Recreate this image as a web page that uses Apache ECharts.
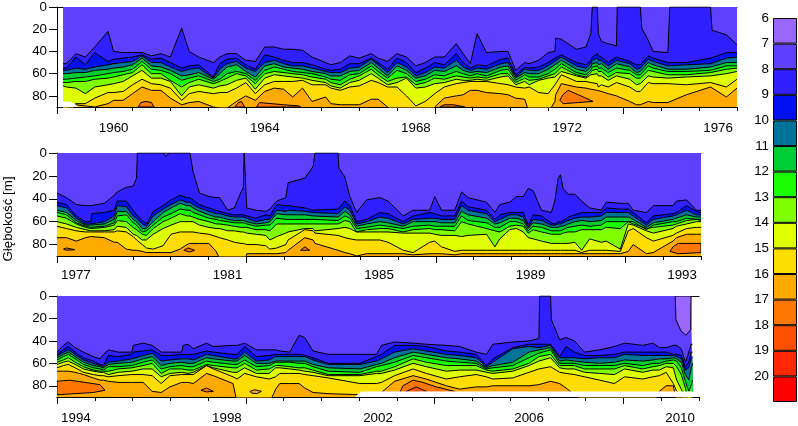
<!DOCTYPE html>
<html><head><meta charset="utf-8">
<style>html,body{margin:0;padding:0;background:#fff}#c{width:798px;height:426px}</style>
<script src="https://cdn.jsdelivr.net/npm/echarts@6/dist/echarts.min.js"></script>
</head><body><div id="c"></div>
<script>
// Temperature levels and their colours (legend)
const levels=[6,7,8,9,10,11,12,13,14,15,16,17,18,19,20];
const levelColors=['#9966ff','#6040ff','#3020ff','#0010f0','#007399','#00cc33','#19ff00','#80ff00','#dfff00','#ffdd00','#ffaa00','#ff7700','#ff5000','#ff2800','#ff0000'];
const yTicks=[0,20,40,60,80];

// Panel 1: 1959-1977
const years1=[1960,1964,1968,1972,1976];
const t1=[1959.16,1959.25,1959.5,1959.75,1960,1960.35,1960.5,1960.75,1961,1961.25,1961.5,1961.75,1962,1962.3,1962.5,1962.75,1963.14,1963.31,1963.5,1963.75,1964,1964.25,1964.5,
1964.75,1965,1965.24,1965.5,1965.75,1966.11,1966.25,1966.5,1966.75,1967,1967.32,1967.5,1967.75,1968,1968.25,1968.5,1968.75,1969,1969.25,1969.57,1969.75,1969.94,1970.12,1970.37,1970.75,1970.94,1971.14,1971.38,
1971.5,1971.75,1972,1972.18,1972.2,1972.35,1972.75,1973,1973.13,1973.17,1973.3,1973.33,1973.41,1973.59,1973.81,1973.83,1974.16,1974.34,1974.44,1974.48,1974.65,1974.78,1975.17,1975.22,1975.66,1976.3,1976.34,1976.72,1977];
const p1L8=[51,51,42,45,36,22,40,41,41,41,44,42,45,19,40,45,50,45,42,42,48,49,36,36,38,38,39,45,50,52,50,44,46,42,46,49,42,45,53,50,45,45,33,42,51,24,41,40,40,57,50,51,48,41,40,28,29,38,36,24,0,0,24,31,33,35,0,0,0,0,19,30,40,41,0,0,0,21,25,34];
const p1L9=[55,55,45,52,41,49,47,46,45,43,47,46,50,55,53,52,63,51,47,46,52,56,43,45,48,50,50,52,56,57,56,51,51,46,50,56,46,50,59,55,50,52,42,50,55,52,53,47,46,61,54,55,54,50,46,45,43,50,52,48,45,42,44,45,50,45,45,49,52,52,51,44,46,50,50,50,46,45,41,41];
const p1L10=[57,57,55,56,54,52,51,50,49,44,50,50,54,58,56,55,64,56,51,49,55,58,50,48,51,53,53,55,58,59,59,55,54,47,52,59,50,54,62,59,54,55,48,54,57,55,56,51,50,63,56,57,57,53,49,48,45,53,55,51,48,46,48,48,53,48,48,51,56,55,54,47,49,53,53,52,51,50,46,45];
const p1L11=[60,60,59,59,57,56,55,54,52,46,53,54,57,62,61,59,65,60,54,52,58,63,53,51,54,55,56,58,60,62,62,58,57,50,55,62,53,57,64,62,57,58,53,57,59,58,59,54,53,64,59,60,60,56,52,51,48,56,58,54,51,50,52,51,56,51,51,54,59,58,57,50,52,56,56,56,54,53,50,50];
const p1L12=[65,65,64,63,62,60,59,58,56,49,56,57,60,66,64,62,67,65,60,58,60,66,57,54,56,58,59,60,63,65,66,61,60,53,58,64,57,60,67,65,61,62,58,60,62,60,62,57,56,66,61,63,63,60,56,55,51,59,61,57,54,53,55,55,59,55,55,57,61,61,60,53,55,58,58,58,57,56,53,53];
const p1L13=[68,68,67,67,65,64,63,61,59,52,60,60,66,72,68,65,69,67,64,60,62,69,60,58,59,60,61,63,65,68,70,65,62,56,61,67,64,63,70,68,64,65,62,63,64,63,64,60,60,68,64,66,65,62,60,59,54,61,63,59,57,56,58,58,63,59,59,60,64,64,63,57,58,61,61,61,59,59,56,55];
const p1L14=[71,72,73,78,72,70,69,67,62,57,64,64,67,80,72,70,73,71,70,66,64,74,64,61,62,63,64,66,68,71,73,68,66,60,64,70,68,64,73,72,69,68,65,66,66,65,66,63,62,70,67,70,66,64,63,62,58,62,64,61,60,60,62,62,66,62,62,65,70,69,68,62,63,64,64,63,62,62,60,58];
const p1L15=[92,92,87,87,82,77,77,76,70,65,69,70,73,84,78,76,78,77,77,73,68,78,70,67,67,67,66,70,70,73,75,72,71,66,68,72,72,80,89,85,78,72,69,68,67,67,67,69,70,72,73,72,77,78,70,69,61,67,67,68,68,69,72,70,72,68,68,72,76,76,75,68,69,69,69,70,68,68,72,65];
const p1L16=[99,99,88,89,90,87,84,84,78,72,75,75,82,88,86,85,90,91,91,85,80,84,76,73,74,81,73,85,81,87,88,88,88,83,83,90,96,98,100,100,90,82,80,79,75,75,77,78,79,82,83,95,96,95,85,79,69,72,73,74,74,75,76,76,78,80,80,85,88,88,87,85,86,86,86,79,72,72,81,73];
const p1Blob17=[
 [[1961.15,90],[1961.22,86],[1961.35,85],[1961.5,86],[1961.57,90]],
 [[1963.71,90],[1963.8,86],[1963.88,85],[1963.97,90]],
 [[1964.28,90],[1964.36,86],[1965,88],[1965.4,89],[1965.45,90]],
 [[1969.13,90],[1969.25,88],[1969.5,88],[1969.8,90]],
 [[1972.31,84],[1972.39,79],[1972.53,75],[1972.8,79],[1973.19,85],[1972.8,86],[1972.4,87]]];
const p1NoData=[[1959.16,85.5],[1959.4,86],[1959.55,90],[1959.16,90]];

// Panel 2: 1977-1994
const years2=[1977,1981,1985,1989,1993];
const t2=[1977,1977.25,1977.51,1977.75,1977.89,1977.92,1978.25,1978.51,1978.59,1978.83,1979.01,1979.1,1979.12,1979.25,1979.36,1979.54,1979.8,1980.01,1980.25,1980.43,1980.51,1980.59,1980.76,1981.01,1981.2,1981.29,1981.51,1981.68,1981.86,1981.92,1981.94,1981.97,1982.01,1982.25,1982.51,
1982.62,1982.8,1983.04,1983.1,1983.54,1983.76,1983.81,1984.42,1984.44,1984.6,1984.73,1984.91,1985.17,1985.52,1985.74,1986.14,1986.4,1986.84,1986.97,1987.15,1987.5,1987.68,1987.85,1988.34,1988.56,1988.69,
1988.95,1989.13,1989.31,1989.44,1989.57,1989.79,1990.05,1990.14,1990.23,1990.29,1990.36,1990.49,1990.67,1990.85,1991.06,1991.37,1991.5,1991.87,1992.08,1992.21,1992.56,1992.74,1993.26,1993.35,1993.62,1993.88,1994];
const p2L8=[35,39,45,46,46,46,44,37,34,30,29,22,0,0,0,0,0,0,0,0,0,16,35,38,39,39,50,48,34,30,0,0,48,50,51,49,42,39,26,22,12,0,0,13,21,38,52,41,39,42,55,50,50,38,50,50,34,39,43,52,45,43,38,38,31,33,50,52,42,22,19,31,36,36,42,48,50,43,44,44,50,52,46,46,42,41,50,50];
const p2L9=[43,45,55,60,60,53,52,50,42,42,50,54,55,59,62,51,46,41,37,39,39,41,45,48,50,51,53,54,54,54,54,55,55,57,54,55,45,46,46,48,50,50,49,48,42,46,60,58,52,53,60,55,52,53,55,55,42,47,50,58,54,52,52,52,63,54,55,61,62,60,60,59,56,54,52,52,52,48,49,49,52,61,55,53,52,46,51,52];
const p2L10=[46,48,57,62,62,61,60,55,46,47,55,57,58,62,64,55,49,45,41,43,43,45,48,51,53,53,55,56,56,56,56,57,57,60,58,58,50,51,50,51,52,53,53,52,47,50,62,60,56,57,62,58,57,57,58,58,46,50,53,60,58,54,54,56,65,58,59,63,63,62,62,61,59,57,56,56,55,52,52,52,55,63,58,55,54,50,54,54];
const p2L11=[50,52,59,63,63,63,62,58,51,51,58,60,61,66,66,60,52,48,44,46,46,48,51,54,56,56,58,59,59,59,59,60,60,62,61,60,53,54,54,54,55,56,56,56,51,54,64,62,60,61,64,60,60,60,61,61,51,54,57,62,61,57,57,59,66,61,62,65,65,65,64,64,62,60,59,60,59,56,56,56,58,65,61,58,57,54,56,56];
const p2L12=[52,54,61,64,65,65,64,61,55,54,61,63,64,69,68,63,56,53,49,50,50,52,54,57,58,59,60,61,61,61,61,62,62,64,63,63,57,58,58,58,58,59,59,59,55,57,66,65,63,64,66,64,63,64,64,64,55,59,61,65,65,60,60,62,68,64,65,68,68,68,68,67,65,64,63,64,63,60,60,60,60,67,63,60,60,57,58,59];
const p2L13=[55,57,62,65,66,66,65,63,59,60,65,67,68,71,72,66,60,57,53,55,55,56,58,60,62,62,63,64,65,65,65,65,65,67,67,68,62,62,62,62,62,63,62,62,59,60,69,67,66,66,69,67,66,67,67,68,60,62,66,68,69,64,63,64,70,67,69,71,71,71,71,70,69,69,67,67,67,65,66,60,62,66,65,63,62,59,58,58];
const p2L14=[60,62,65,67,68,68,68,67,64,65,71,72,73,76,76,71,66,63,60,60,60,60,63,65,66,66,68,68,69,69,69,70,70,71,72,76,73,70,69,66,66,68,66,66,65,66,69,69,69,69,70,70,70,71,72,72,73,72,71,82,75,67,66,69,74,75,77,79,79,79,79,79,79,78,85,75,78,77,84,62,63,68,70,66,64,62,60,60];
const p2L15=[64,66,68,69,69,69,69,69,68,69,73,76,77,80,83,84,81,71,69,69,69,69,70,71,73,74,76,78,79,79,79,80,80,80,81,84,83,80,76,67,68,70,72,72,74,75,76,76,76,78,85,87,78,77,82,86,85,85,85,85,85,85,85,85,85,85,85,85,85,85,85,85,85,85,87,85,85,85,86,68,66,74,77,72,70,66,65,65];
const p2L16=[74,74,77,74,73,73,74,78,78,84,85,85,85,86,87,87,87,87,84,80,79,79,79,79,86,92,100,100,100,100,100,100,88,88,88,88,88,87,85,74,76,79,85,85,87,88,90,88,88,88,88,89,88,88,88,89,88,88,88,88,88,88,88,88,88,88,88,88,88,88,88,88,88,88,88,88,88,88,88,86,80,88,87,77,74,71,71,71];
const p2Blob17=[
 [[1977.17,84],[1977.25,83],[1977.47,84.5],[1977.25,85]],
 [[1980.35,85],[1980.46,83],[1980.63,85],[1980.5,86.5]],
 [[1983.43,85],[1983.54,82],[1983.67,85]],
 [[1993.18,86],[1993.26,82],[1993.4,79],[1994,79],[1994,87],[1993.4,88]]];
const p2Blob7=[[[1979.8,0],[1979.87,3],[1979.97,0]]];

// Panel 3: 1994-2011
const years3=[1994,1998,2002,2006,2010];
const t3=[1994,1994.17,1994.3,1994.48,1994.7,1994.96,1995.14,1995.23,1995.36,1995.62,1995.98,1996.02,1996.28,1996.52,1996.76,1996.99,1997.3,1997.34,1997.47,1997.61,1997.96,1998.14,1998.66,1998.77,1998.97,1999.28,1999.62,
1999.79,1999.9,2000.16,2000.41,2000.56,2000.78,2001.18,2002.02,2002.46,2002.59,2002.94,2003.43,2003.78,2004.31,2004.66,2005.1,2005.37,2005.54,2006.07,2006.5,
2006.76,2006.78,2007.07,2007.09,2007.31,2007.48,2007.7,2007.97,2008.37,2008.76,2009.03,2009.51,2009.78,2009.95,2010.13,2010.32,2010.41,2010.53,2010.64,2010.73,2010.79,2010.83];
const p3L8=[50,44,41,46,50,54,56,52,48,50,50,44,42,44,50,50,50,44,43,47,42,45,44,44,42,48,48,48,49,50,35,37,49,52,52,52,44,41,42,43,44,45,50,52,43,41,40,38,0,0,21,39,37,40,50,48,45,42,44,42,46,46,44,44,47,59,50,43,43];
const p3L9=[52,48,45,50,55,58,61,62,53,54,52,50,49,48,53,53,52,52,52,52,49,50,52,52,45,54,53,52,52,52,52,53,55,60,60,54,52,44,44,45,49,50,52,62,56,46,43,43,43,43,43,54,45,50,53,53,52,50,50,50,50,50,52,52,53,63,59,50,50];
const p3L10=[53,50,48,52,57,60,62,63,59,58,56,55,53,51,58,57,56,56,56,57,52,53,56,56,50,58,57,54,54,54,54,54,57,61,61,58,56,50,47,49,52,53,55,63,59,47,45,46,46,44,44,55,55,55,56,55,55,52,53,53,53,53,53,54,56,66,64,56,54];
const p3L11=[55,52,50,54,59,62,63,64,61,60,59,58,56,54,62,60,59,59,60,60,55,56,58,58,53,60,60,58,58,58,58,58,61,64,65,61,60,55,50,52,55,56,58,64,62,59,50,48,48,46,46,58,57,58,59,60,59,57,58,57,56,56,55,56,59,70,75,65,60];
const p3L12=[57,54,52,56,61,64,65,66,63,63,62,61,59,57,65,63,62,62,63,63,58,59,61,61,57,63,62,59,59,59,60,60,63,67,68,63,62,59,53,55,58,59,60,65,64,62,55,51,51,48,48,60,60,60,62,62,62,60,62,60,60,58,57,58,64,76,85,80,75];
const p3L13=[59,57,55,59,63,66,67,67,67,65,64,64,62,60,69,65,65,65,66,66,61,62,64,64,60,66,65,62,62,63,64,64,66,70,70,67,67,63,56,59,62,62,62,66,67,65,60,54,54,52,52,62,62,62,65,65,65,62,65,63,62,60,60,63,70,82,95,90,90];
const p3L14=[61,59,58,61,65,67,68,68,70,68,67,67,65,65,72,69,68,68,69,68,62,64,68,68,64,69,69,64,64,65,66,67,68,71,71,69,69,66,60,63,67,66,66,68,69,67,62,58,58,55,55,64,65,65,68,69,70,65,68,66,66,63,64,75,83,90,100,100,100];
const p3L15=[64,62,61,64,68,70,71,71,72,71,70,70,70,71,78,71,70,70,70,70,62,65,72,74,69,72,74,72,69,69,69,70,71,73,78,78,77,71,65,69,74,72,70,72,74,73,68,65,65,63,63,68,69,70,72,75,78,72,74,72,71,68,78,85,88,100,100,100,100];
const p3L16=[67,67,67,68,70,73,75,75,76,77,77,77,77,85,86,81,77,77,77,78,69,71,78,95,95,95,96,83,78,78,78,82,86,87,88,88,86,76,71,74,80,83,81,81,80,80,80,79,79,76,76,78,82,88,95,98,98,98,98,98,85,80,80,95,100,100,100,100,100];
const p3Blob16=[[[1999.11,85],[1999.24,83.5],[1999.41,85],[1999.3,87],[1999.15,86.5]]];
const p3Blob17=[
 [[1994,76],[1994.34,75],[1995.14,79],[1995.27,84],[1994.96,86],[1994,88]],
 [[1997.81,84],[1997.96,82],[1998.14,85],[1997.96,85.5]],
 [[2003.03,90],[2003.16,80],[2003.43,75],[2003.69,77],[2004.04,81],[2004.53,85],[2004.6,90]]];
const p3Blob18=[[[2003.25,85],[2003.51,81],[2003.78,85],[2003.6,90],[2003.3,90]]];
const p3Blob6=[[[2010.37,0],[2010.39,21],[2010.52,31],[2010.65,35],[2010.78,30],[2010.79,0]]];
const p3NoData=[[2001.9,90],[2002.05,85.5],[2010.83,85.5],[2010.83,90]];

const colorOf=l=>levelColors[levels.indexOf(l)];
const FONT='"Liberation Sans"';
const grids=[{left:57,top:7,width:680,height:100},{left:57,top:153,width:644,height:103},{left:57,top:296,width:642,height:101}];
const panels=[
 {min:1959,max:1977,margin:15,years:years1,t:t1,lines:[p1L8,p1L9,p1L10,p1L11,p1L12,p1L13,p1L14,p1L15,p1L16],
  blobs:[[17,p1Blob17]],mask:p1NoData},
 {min:1977,max:1994,margin:13,years:years2,t:t2,lines:[p2L8,p2L9,p2L10,p2L11,p2L12,p2L13,p2L14,p2L15,p2L16],
  blobs:[[17,p2Blob17],[7,p2Blob7]]},
 {min:1994,max:2011,margin:15,years:years3,t:t3,lines:[p3L8,p3L9,p3L10,p3L11,p3L12,p3L13,p3L14,p3L15,p3L16],
  blobs:[[16,p3Blob16],[17,p3Blob17],[18,p3Blob18],[6,p3Blob6]],mask:p3NoData}
];

function poly(axis,pts,fill,stroke,z){
 return {type:'custom',coordinateSystem:'cartesian2d',xAxisIndex:axis,yAxisIndex:axis/3,clip:true,silent:true,z:z,
  data:pts.map(q=>[q[0],q[1]]),
  encode:{x:0,y:1},
  renderItem:(p,api)=>{
   if(p.dataIndex!==0) return null;
   return {type:'polygon',z2:100,shape:{points:pts.map(q=>api.coord(q))},
     style:{fill:fill,stroke:stroke,lineWidth:1}};
  }};
}
const xAxes=[],yAxes=[],series=[];
panels.forEach((P,i)=>{
 const base=i*3;
 xAxes.push({gridIndex:i,type:'value',min:P.min,max:P.max,position:'bottom',
   axisLine:{onZero:false,lineStyle:{color:'#000',width:1}},splitLine:{show:false},
   axisTick:{show:true,length:7,lineStyle:{color:'#000'},customValues:[P.min,P.min+5,P.min+10,P.min+15]},
   axisLabel:{show:true,color:'#000',fontFamily:FONT,fontSize:13.33,margin:P.margin,hideOverlap:false,
     customValues:P.years.map(y=>y+0.5),formatter:v=>String(Math.floor(v))}});
 xAxes.push({gridIndex:i,type:'value',min:P.min,max:P.max,interval:1,position:'bottom',
   axisLine:{onZero:false,show:false},splitLine:{show:false},
   axisTick:{show:true,length:4,lineStyle:{color:'#000'}},axisLabel:{show:false}});
 xAxes.push({gridIndex:i,type:'value',min:P.min,max:P.max,position:'top',
   axisLine:{onZero:false,lineStyle:{color:'#000',width:1}},splitLine:{show:false},
   axisTick:{show:false},axisLabel:{show:false}});
 yAxes.push({gridIndex:i,type:'value',inverse:true,min:0,max:90,position:'left',
   axisLine:{show:true,onZero:false,lineStyle:{color:'#000'}},splitLine:{show:false},
   axisTick:{show:true,length:8,lineStyle:{color:'#000'},customValues:yTicks},
   axisLabel:{color:'#000',fontFamily:FONT,fontSize:13.33,margin:10,customValues:yTicks}});
 series.push({type:'line',xAxisIndex:base,yAxisIndex:i,data:P.t.map(t=>[t,0]),showSymbol:false,
   lineStyle:{width:0},areaStyle:{color:colorOf(7),origin:'end',opacity:1},silent:true});
 P.lines.forEach((vals,k)=>{
   series.push({type:'line',xAxisIndex:base,yAxisIndex:i,data:P.t.map((t,j)=>[t,vals[j]]),
     showSymbol:false,smooth:false,silent:true,
     lineStyle:{color:'#000',width:1},
     areaStyle:{color:colorOf(8+k),origin:'end',opacity:1}});
 });
 P.blobs.forEach(([lev,list])=>list.forEach(pts=>series.push(poly(base,pts,colorOf(lev),'#000',5))));
 if(P.mask) series.push(poly(base,P.mask,'#fff','#fff',6));
});
grids.push({left:773,top:18,width:24,height:384});
xAxes.push({gridIndex:3,type:'category',data:[''],show:false});
yAxes.push({gridIndex:3,type:'value',inverse:true,min:6,max:21,position:'left',
  axisLine:{show:false},axisTick:{show:false},splitLine:{show:false},
  axisLabel:{color:'#000',fontFamily:FONT,fontSize:13.33,margin:4,customValues:levels}});
const xLeg=xAxes.length-1;
series.push({type:'bar',xAxisIndex:xLeg,yAxisIndex:3,stack:'s',barWidth:'100%',data:[levels[0]],itemStyle:{color:'transparent'},silent:true});
levels.forEach((l,i)=>series.push({type:'bar',xAxisIndex:xLeg,yAxisIndex:3,stack:'s',barWidth:'100%',data:[1],silent:true,
  itemStyle:{color:levelColors[i],borderColor:'#000',borderWidth:1}}));

const chart=echarts.init(document.getElementById('c'),null,{renderer:'canvas'});
chart.setOption({animation:false,backgroundColor:'#fff',grid:grids,xAxis:xAxes,yAxis:yAxes,series:series,
 graphic:[{type:'text',x:8,y:219,rotation:Math.PI/2,style:{text:'Głębokość [m]',fill:'#000',font:'13.33px '+FONT,align:'center',verticalAlign:'middle'}}]});
</script></body></html>
